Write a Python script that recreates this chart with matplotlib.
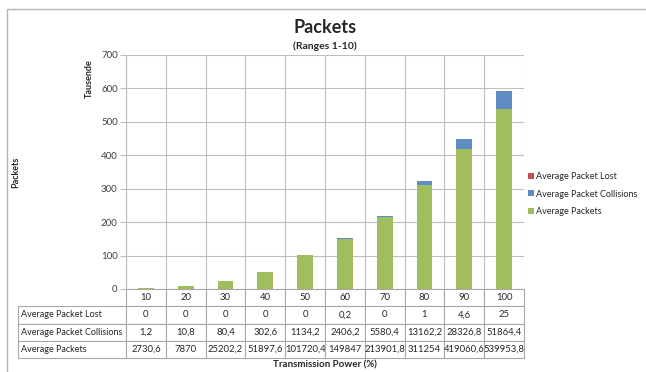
import numpy as np
import matplotlib
matplotlib.use("Agg")
import matplotlib.pyplot as plt
from matplotlib.patches import Rectangle
from matplotlib.table import Table

plt.rcParams["font.family"] = ["Lato", "DejaVu Sans"]

powers = ["10", "20", "30", "40", "50", "60", "70", "80", "90", "100"]
packets_lost = [0, 0, 0, 0, 0, 0.2, 0, 1, 4.6, 25]
packet_collisions = [1.2, 10.8, 80.4, 302.6, 1134.2, 2406.2, 5580.4, 13162.2, 28326.8, 51864.4]
avg_packets = [2730.6, 7870, 25202.2, 51897.6, 101720.4, 149847, 213901.8, 311254, 419060.6, 539953.8]
row_names = ["Average Packet Lost", "Average Packet Collisions", "Average Packets"]

GREEN = "#A0BE60"
BLUE = "#5F8CC5"
RED = "#C0504D"
GRID = "#BEBEBE"


def fmt(v):
    # values are printed with a decimal comma
    s = ("%.1f" % v).rstrip("0").rstrip(".")
    return s.replace(".", ",")


fig = plt.figure(figsize=(6.46, 3.72), dpi=100)
fig.patches.append(Rectangle((7 / 646, -0.05), 1.0, 1 - 9 / 372 + 0.05,
                             transform=fig.transFigure, fill=False,
                             edgecolor="#B4B4B4", linewidth=1.0))

ax = fig.add_axes([126 / 646, 1 - 289 / 372, 398 / 646, 234 / 372])

x = np.arange(len(powers))
# plotted in thousands ("Tausende")
p = np.array(avg_packets) / 1000
c = np.array(packet_collisions) / 1000
l = np.array(packets_lost) / 1000

b_p = ax.bar(x, p, width=0.4, color=GREEN, zorder=3, label="Average Packets")
b_c = ax.bar(x, c, width=0.4, bottom=p, color=BLUE, zorder=3, label="Average Packet Collisions")
b_l = ax.bar(x, l, width=0.4, bottom=p + c, color=RED, zorder=3, label="Average Packet Lost")

ax.set_xlim(-0.5, 9.5)
ax.set_ylim(0, 700)
ax.set_yticks(np.arange(0, 701, 100))
ax.set_xticks([])
ax.set_xticks(np.arange(-0.5, 10, 1), minor=True)
ax.tick_params(axis="x", which="both", length=0, labelbottom=False)
ax.tick_params(axis="y", length=4, width=0.8, color=GRID, pad=2,
               labelsize=7, labelcolor="#404040")
ax.grid(axis="y", color=GRID, linewidth=0.8, zorder=0)
ax.grid(axis="x", which="minor", color=GRID, linewidth=0.8, zorder=0)
for side in ["top", "right", "bottom"]:
    ax.spines[side].set_visible(False)
ax.spines["left"].set_color(GRID)
ax.spines["left"].set_linewidth(0.8)

# data table under the bars (sizes in axes fractions so the bbox does not rescale)
row_h = (69 / 234) / 4
col_w = 0.1
label_w = 108 / 398
tbl = Table(ax, bbox=[0, -69 / 234, 1, 69 / 234])
rows = [packets_lost, packet_collisions, avg_packets]
for j, pw in enumerate(powers):
    tbl.add_cell(0, j, width=col_w, height=row_h, text=pw, loc="center")
for i, (name, vals) in enumerate(zip(row_names, rows), start=1):
    cell = tbl.add_cell(i, -1, width=label_w, height=row_h, text=name, loc="left")
    cell.PAD = 0.03
    for j, v in enumerate(vals):
        tbl.add_cell(i, j, width=col_w, height=row_h, text=fmt(v), loc="center")
tbl.auto_set_font_size(False)
tbl.set_fontsize(6.8)
for (r, col), cell in tbl.get_celld().items():
    cell.set_edgecolor("#A8A8A8")
    cell.set_linewidth(0.8)
    cell.get_text().set_color("#262626")
    if col == -1:
        cell.get_text().set_fontsize(6.5)
ax.add_table(tbl)

ax.legend(handles=[b_l, b_c, b_p], loc="upper left", bbox_to_anchor=(0.99, 0.535),
          frameon=False, fontsize=6.5, handlelength=0.6, handleheight=0.6,
          handletextpad=0.3, labelspacing=0.95, labelcolor="#262626")

fig.text(0.503, 0.927, "Packets", ha="center", va="center",
         fontsize=13, fontweight="bold", color="#262626")
fig.text(0.503, 0.876, "(Ranges 1-10)", ha="center", va="center",
         fontsize=7.5, fontweight="bold", color="#262626")
fig.text(89 / 646, 1 - 79 / 372, "Tausende", rotation=90, ha="center", va="center",
         fontsize=6.5, fontweight="bold", color="#262626")
fig.text(16 / 646, 1 - 172 / 372, "Packets", rotation=90, ha="center", va="center",
         fontsize=6.5, fontweight="bold", color="#262626")
fig.text(325 / 646, 1 - 365 / 372, "Transmission Power (%)", ha="center", va="center",
         fontsize=7, fontweight="bold", color="#262626")

fig.savefig("out.png", dpi=100)
